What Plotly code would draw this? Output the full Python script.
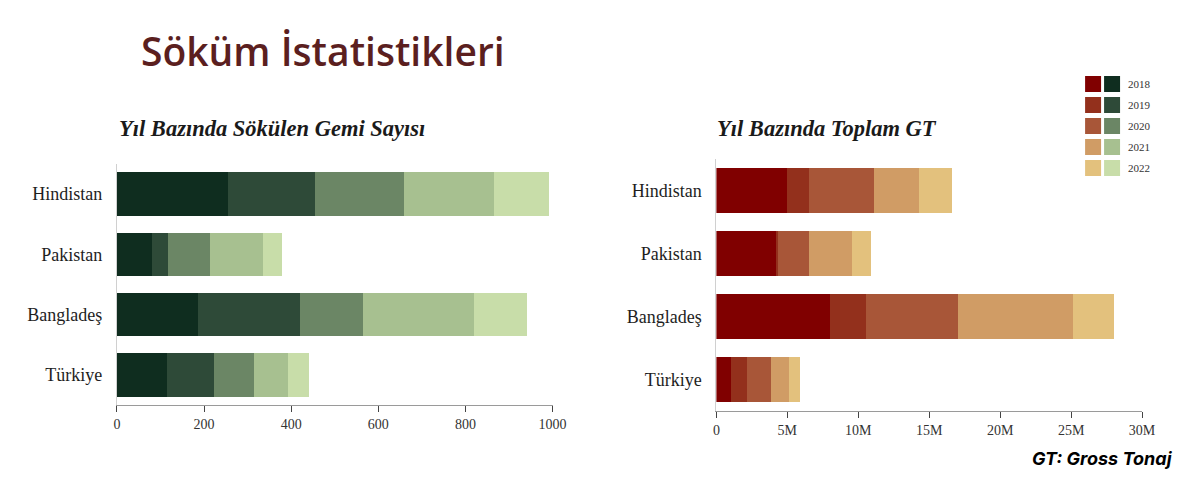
import plotly.graph_objects as go

# data
countries = ["Hindistan", "Pakistan", "Bangladeş", "Türkiye"]
years = ["2018", "2019", "2020", "2021", "2022"]

# ships scrapped per year (count)
ships_2018 = [254, 81, 187, 114]
ships_2019 = [200, 36, 234, 109]
ships_2020 = [204, 97, 143, 92]
ships_2021 = [207, 122, 256, 78]
ships_2022 = [127, 42, 121, 49]

# total gross tonnage per year
gt_2018 = [4.98e6, 4.28e6, 8.0e6, 1.0e6]
gt_2019 = [1.56e6, 0.08e6, 2.53e6, 1.13e6]
gt_2020 = [4.56e6, 2.18e6, 6.47e6, 1.69e6]
gt_2021 = [3.17e6, 3.02e6, 8.1e6, 1.32e6]
gt_2022 = [2.32e6, 1.32e6, 2.9e6, 0.73e6]

greens = ["#0f2d1f", "#2e4a38", "#6b8665", "#a7c090", "#c8dda9"]
reds = ["#800000", "#93301c", "#a85638", "#d09c65", "#e3c17d"]

ships = [ships_2018, ships_2019, ships_2020, ships_2021, ships_2022]
gts = [gt_2018, gt_2019, gt_2020, gt_2021, gt_2022]

serif = "Liberation Serif, DejaVu Serif, serif"


# page pixel -> paper fraction (page shows the figure offset by the body margin)
def px(x):
    return (x - 11) / 1184


def py(y):
    return 1 - (y - 8) / 480


fig = go.Figure()
for i, yr in enumerate(years):
    fig.add_trace(go.Bar(y=countries, x=ships[i], orientation="h", name=yr,
                         marker=dict(color=greens[i], line=dict(width=0)),
                         xaxis="x", yaxis="y", showlegend=False))
    fig.add_trace(go.Bar(y=countries, x=gts[i], orientation="h", name=yr,
                         marker=dict(color=reds[i], line=dict(width=0)),
                         xaxis="x2", yaxis="y2", showlegend=False))

axis_common = dict(showgrid=False, zeroline=False, showline=True, linecolor="#9a9a9a",
                   linewidth=1, ticks="outside", ticklen=6, tickcolor="#444",
                   tickfont=dict(family=serif, size=14, color="#333"))
yaxis_common = dict(showgrid=False, zeroline=False, showline=True, linecolor="#d0d0d0",
                    linewidth=1, ticks="", autorange="reversed",
                    tickfont=dict(family=serif, size=18, color="#1e1e1e"), ticklabelstandoff=10)

fig.update_layout(
    width=1200, height=480,
    margin=dict(l=0, r=0, t=0, b=0),
    paper_bgcolor="white", plot_bgcolor="white",
    barmode="stack",
    xaxis=dict(domain=[px(117), px(553)], range=[0, 1000], tickvals=[0, 200, 400, 600, 800, 1000],
               anchor="y", **axis_common),
    yaxis=dict(domain=[py(405), py(164)], anchor="x", **yaxis_common),
    xaxis2=dict(domain=[px(717), px(1143)], range=[0, 30e6], tickvals=[0, 5e6, 10e6, 15e6, 20e6, 25e6, 30e6],
                tickformat="~s", anchor="y2", **axis_common),
    yaxis2=dict(domain=[py(411), py(159)], anchor="x2", **yaxis_common),
    bargap=0.28,
)

# title and subtitles
fig.add_annotation(text="Söküm İstatistikleri", x=px(139), y=py(50),
                   xref="paper", yref="paper", xanchor="left", yanchor="middle", showarrow=False,
                   font=dict(family="Open Sans", size=39, weight=600, color="#5b1f1f"))
fig.add_annotation(text="<b><i>Yıl Bazında Sökülen Gemi Sayısı</i></b>", x=px(117), y=py(128),
                   xref="paper", yref="paper", xanchor="left", yanchor="middle", showarrow=False,
                   font=dict(family=serif, size=22.5, color="#1a1a1a"))
fig.add_annotation(text="<b><i>Yıl Bazında Toplam GT</i></b>", x=px(716), y=py(128),
                   xref="paper", yref="paper", xanchor="left", yanchor="middle", showarrow=False,
                   font=dict(family=serif, size=22.5, color="#1a1a1a"))
fig.add_annotation(text="<b><i>GT: Gross Tonaj</i></b>", x=px(1176), y=py(458),
                   xref="paper", yref="paper", xanchor="right", yanchor="middle", showarrow=False,
                   font=dict(family="Inter", size=18, color="#000"))

# custom legend with a red and a green swatch per year
for i, yr in enumerate(years):
    yc = 84 + i * 21
    for x0, col in [(1086, reds[i]), (1105, greens[i])]:
        fig.add_shape(type="rect", xref="paper", yref="paper",
                      x0=px(x0), x1=px(x0 + 16),
                      y0=py(yc + 8), y1=py(yc - 8),
                      fillcolor=col, line=dict(width=0))
    fig.add_annotation(text=yr, x=px(1127), y=py(yc), xref="paper", yref="paper",
                       xanchor="left", yanchor="middle", showarrow=False,
                       font=dict(family=serif, size=11, color="#333"))

fig.write_html("out.html")
